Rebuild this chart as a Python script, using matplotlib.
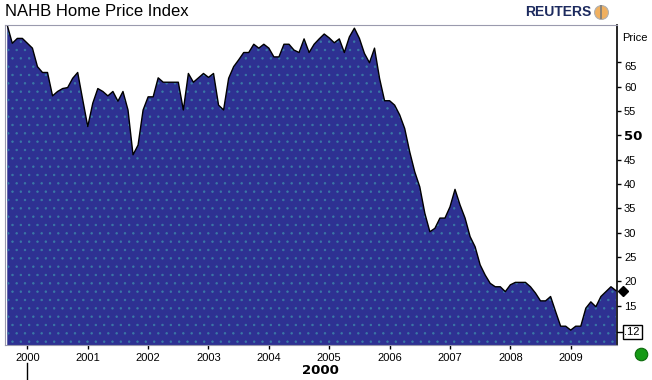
import matplotlib
matplotlib.use('Agg')
import matplotlib.pyplot as plt
import numpy as np
import pandas as pd

plt.rcParams['font.family'] = ['Liberation Sans', 'DejaVu Sans']
plt.rcParams['hatch.linewidth'] = 0.5

# monthly NAHB index, Sep 1999 .. Oct 2009
months = pd.date_range('1999-09-01', periods=122, freq='MS')
index_values = [
    72.6, 68.9, 69.9, 69.9,                                          # 1999
    68.9, 67.9, 64.1, 62.9, 62.9, 58.1, 59.0, 59.6, 59.8, 61.7, 62.9, 57.3,  # 2000
    51.8, 56.6, 59.6, 59.0, 58.1, 59.0, 57.0, 59.0, 55.2, 46.0, 48.0, 55.2,  # 2001
    57.9, 57.9, 61.8, 60.9, 60.9, 60.9, 60.9, 55.2, 62.7, 60.9, 61.8, 62.7,  # 2002
    61.9, 62.7, 56.2, 55.2, 61.7, 64.1, 65.5, 67.0, 67.0, 68.7, 67.9, 68.7,  # 2003
    67.9, 66.1, 66.1, 68.7, 68.7, 67.5, 67.0, 69.8, 67.0, 68.7, 69.8, 70.8,  # 2004
    70.0, 69.0, 69.8, 67.0, 70.2, 72.0, 69.9, 66.8, 64.9, 67.9, 61.7, 57.1,  # 2005
    57.1, 56.2, 54.2, 51.4, 46.6, 42.5, 39.4, 34.0, 30.2, 30.9, 33.0, 33.0,  # 2006
    35.3, 38.9, 35.7, 33.0, 29.2, 27.1, 23.4, 21.3, 19.6, 18.9, 18.9, 17.9,  # 2007
    19.3, 19.8, 19.8, 19.8, 18.9, 17.6, 16.0, 16.0, 16.9, 13.8, 10.8, 10.8,  # 2008
    10.0, 10.8, 10.8, 14.5, 15.8, 14.8, 16.9, 17.9, 18.9, 18.1,              # 2009
]
year_ticks = list(range(2000, 2010))
price_ticks = [15, 20, 25, 30, 35, 40, 45, 50, 55, 60, 65]

x = months.year + (months.month - 1) / 12.0
y = np.array(index_values)

fig = plt.figure(figsize=(6.52, 3.80), dpi=100)
ax = fig.add_axes([5 / 652, 35 / 380, 612 / 652, 320 / 380])

ymin = 6.94
ax.fill_between(x, ymin, y, facecolor='#2e3192', edgecolor='#3a7aa6',
                hatch='..', linewidth=0)
ax.plot(x, y, color='black', lw=1.0)

ax.set_xlim(2000 - 4.45 / 12, 2000 + 117.2 / 12)
ax.set_ylim(ymin, 72.65)

# axes frame
for side in ['left', 'top', 'bottom']:
    ax.spines[side].set_color('#9a9aae')
ax.spines['right'].set_color('black')
ax.spines['right'].set_linewidth(1.2)

ax.yaxis.tick_right()
ax.set_yticks(price_ticks)
ax.set_yticklabels([str(v) for v in price_ticks])
ax.tick_params(axis='y', direction='out', length=3, width=1, pad=2,
               labelsize=8, colors='black')
for lab in ax.get_yticklabels():
    if lab.get_text() == '50':
        lab.set_fontweight('bold')
        lab.set_fontsize(9.5)
        lab.set_family('DejaVu Sans')
    if lab.get_text() == '65':
        lab.set_verticalalignment('top')

ax.set_xticks(year_ticks)
ax.set_xticklabels([str(v) for v in year_ticks])
ax.tick_params(axis='x', direction='out', length=3, width=1, pad=3,
               labelsize=8, color='black')

ax.text(1.008, 0.975, 'Price', transform=ax.transAxes, fontsize=8,
        va='top', ha='left')

# last value marker
ax.plot([1.009], [y[-1]], marker='D', color='black', ms=5,
        transform=ax.get_yaxis_transform(), clip_on=False)

# boxed bottom label with leader
ax.plot([1.0, 1.012], [0.041, 0.041], color='black', lw=1,
        transform=ax.transAxes, clip_on=False)
ax.text(1.012, 0.041, '.12', transform=ax.transAxes, fontsize=8,
        va='center', ha='left',
        bbox=dict(boxstyle='square,pad=0.15', fc='white', ec='black', lw=1))

# decade label under the axis
ax.plot([2000, 2000], [-0.055, -0.105], color='black', lw=1,
        transform=ax.get_xaxis_transform(), clip_on=False)
fig.text(320 / 652, 1 - 370 / 380, '2000', fontsize=9.5, fontweight='bold',
         ha='center', va='center', family='DejaVu Sans')

# status dot
ax.plot([641 / 652], [1 - 354 / 380], marker='o', ms=9, mfc='#169a16',
        mec='#0c6a0c', mew=0.8, transform=fig.transFigure, clip_on=False)

fig.text(5 / 652, 1 - 12 / 380, 'NAHB Home Price Index', fontsize=12,
         ha='left', va='center')

# logo
fig.text(591 / 652, 1 - 12 / 380, 'REUTERS', fontsize=10, fontweight='bold',
         color='#1c2a5e', ha='right', va='center')
ax.plot([601 / 652], [1 - 12 / 380], marker='o', ms=10, mfc='#f0b060',
        mec='#b0b0b0', mew=0.8, transform=fig.transFigure, clip_on=False)
ax.plot([601 / 652], [1 - 12 / 380], marker='|', ms=10, color='#7a7a7a',
        mew=1.2, transform=fig.transFigure, clip_on=False)

fig.savefig('out.png', dpi=100)
